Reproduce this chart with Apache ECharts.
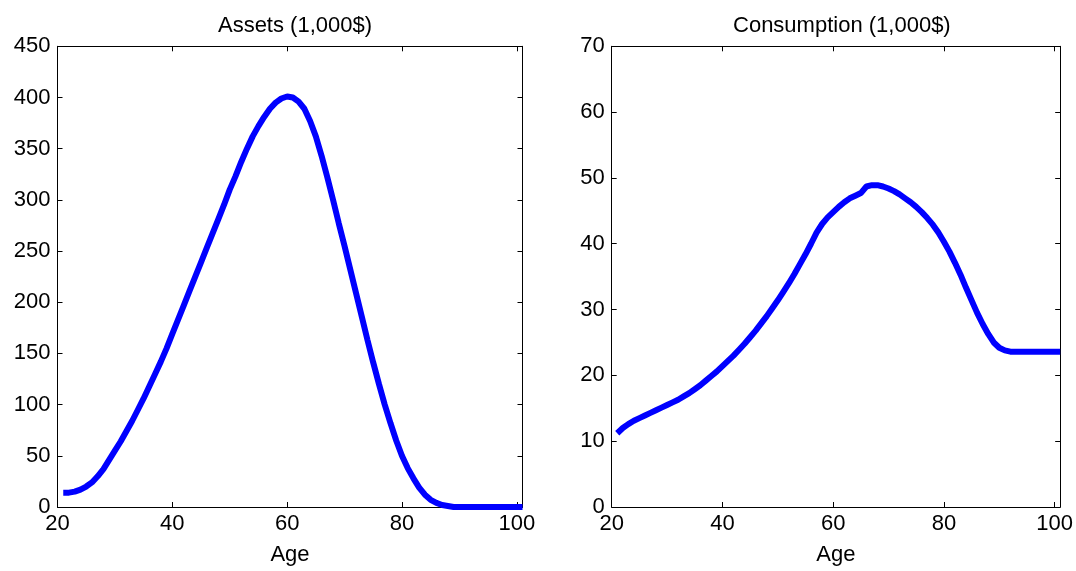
<!DOCTYPE html>
<html>
<head>
<meta charset="utf-8">
<script src="https://cdn.jsdelivr.net/npm/echarts@6/dist/echarts.min.js"></script>
<style>
html,body{margin:0;padding:0;background:#fff;}
#c{width:1076px;height:571px;}
</style>
</head>
<body>
<div id="c"></div>
<script>
const ages = [21,22,23,24,25,26,27,28,29,30,31,32,33,34,35,36,37,38,39,40,41,42,43,44,45,46,47,48,49,50,51,52,53,54,55,56,57,58,59,60,61,62,63,64,65,66,67,68,69,70,71,72,73,74,75,76,77,78,79,80,81,82,83,84,85,86,87,88,89,90,91,92,93,94,95,96,97,98,99,100,101];
const assets = [14,14,15,17,20,24,30,37,46,55,64,74,84,95,106,118,130,142,155,169,183,197,211,225,239,253,267,281,295,310,323,337,350,362,372,381,389,395,399,401,400,396,389,377,362,343,322,300,277,255,232,209,186,163,141,120,100,82,65,50,38,28,19,12,7,4,2,1,0,0,0,0,0,0,0,0,0,0,0,0,0];
const consumption = [11.2,12.0,12.6,13.1,13.5,13.9,14.3,14.7,15.1,15.5,15.9,16.3,16.8,17.3,17.9,18.5,19.2,19.9,20.6,21.4,22.2,23.0,23.9,24.8,25.8,26.8,27.9,29.0,30.2,31.4,32.7,34.0,35.4,36.9,38.4,40.0,41.7,43.0,44.0,44.8,45.6,46.3,46.9,47.3,47.7,48.7,48.9,48.9,48.7,48.4,48.0,47.5,46.9,46.3,45.6,44.8,43.9,42.9,41.7,40.3,38.8,37.1,35.3,33.3,31.4,29.5,27.8,26.3,25.0,24.2,23.8,23.6,23.6,23.6,23.6,23.6,23.6,23.6,23.6,23.6,23.6];
const titles = ['Assets (1,000$)', 'Consumption (1,000$)'];
const xLabel = 'Age';
const yRanges = [{min:0,max:450,interval:50},{min:0,max:70,interval:10}];
const xRange = {min:20,max:101,interval:20};

const FONT = 'Liberation Sans, Arial, sans-serif';
const FS = 22;
const chart = echarts.init(document.getElementById('c'), null, {renderer:'canvas'});
const grids = [
  {left:57.5, top:46.3, width:465, height:464.5},
  {left:611.7, top:46.3, width:450.3, height:464.5}
];
const lineStyle = {color:'#000', width:1};
function xAxes(i){
  return [
    {gridIndex:i, type:'value', position:'bottom', min:xRange.min, max:xRange.max, interval:xRange.interval,
     axisLine:{show:true, onZero:false, lineStyle}, axisTick:{show:true, inside:true, length:5, lineStyle},
     splitLine:{show:false},
     axisLabel:{show:true, color:'#000', fontSize:FS, fontFamily:FONT, margin:6,
       formatter:v => (v % 20 === 0 ? String(v) : '')},
     name:xLabel, nameLocation:'middle', nameGap:37, nameTextStyle:{color:'#000', fontSize:FS, fontFamily:FONT}},
    {gridIndex:i, type:'value', position:'top', min:xRange.min, max:xRange.max, interval:xRange.interval,
     axisLine:{show:true, onZero:false, lineStyle}, axisTick:{show:true, inside:true, length:5, lineStyle},
     splitLine:{show:false}, axisLabel:{show:false}}
  ];
}
function yAxes(i){
  const r = yRanges[i];
  return [
    {gridIndex:i, type:'value', position:'left', min:r.min, max:r.max, interval:r.interval,
     axisLine:{show:true, onZero:false, lineStyle}, axisTick:{show:true, inside:true, length:5, lineStyle},
     splitLine:{show:false},
     axisLabel:{show:true, color:'#000', fontSize:FS, fontFamily:FONT, margin:7}},
    {gridIndex:i, type:'value', position:'right', min:r.min, max:r.max, interval:r.interval,
     axisLine:{show:true, onZero:false, lineStyle}, axisTick:{show:true, inside:true, length:5, lineStyle},
     splitLine:{show:false}, axisLabel:{show:false}}
  ];
}
const seriesData = [assets, consumption];
const option = {
  animation:false,
  backgroundColor:'#fff',
  title: titles.map((t,i)=>({
    text:t, left: grids[i].left + grids[i].width/2, top:10, textAlign:'center',
    textStyle:{color:'#000', fontSize:FS, fontWeight:'normal', fontFamily:FONT}
  })),
  grid: grids,
  xAxis: [...xAxes(0), ...xAxes(1)],
  yAxis: [...yAxes(0), ...yAxes(1)],
  series: seriesData.map((d,i)=>({
    type:'line', xAxisIndex:i*2, yAxisIndex:i*2,
    data: ages.map((a,k)=>[a, d[k]]),
    showSymbol:false, smooth:false,
    lineStyle:{color:'#0000ff', width:6},
    itemStyle:{color:'#0000ff'}
  }))
};
chart.setOption(option);
</script>
</body>
</html>
